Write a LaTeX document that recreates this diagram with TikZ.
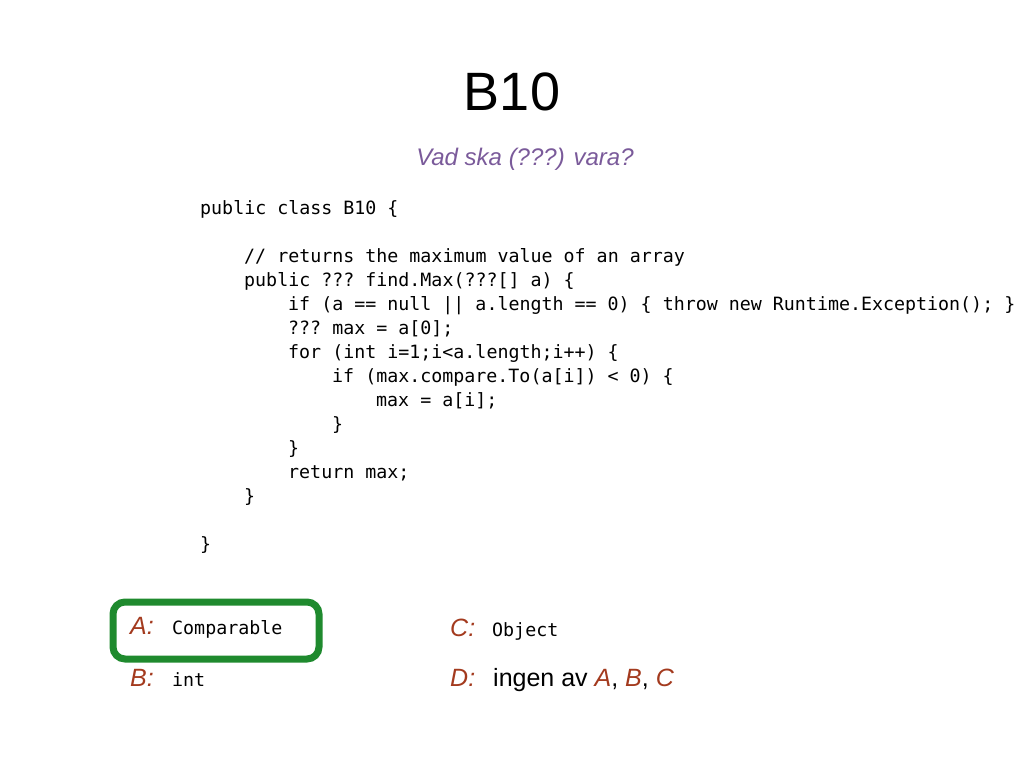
\documentclass[tikz,border=0pt]{standalone}
\usepackage{fontspec}
\setmainfont{Liberation Sans}
\setmonofont{DejaVu Sans Mono}
\definecolor{lbl}{HTML}{A33A1E}
\definecolor{sub}{HTML}{7A5A9A}
\definecolor{grn}{HTML}{1F8A2E}
\begin{document}
\begin{tikzpicture}[x=1pt,y=-1pt,
  code/.style={anchor=base west,inner sep=0pt,font=\fontsize{18.3}{20}\ttfamily},
  lab/.style={anchor=base west,inner sep=0pt,font=\fontsize{25}{28}\itshape\selectfont,text=lbl},
  ans/.style={anchor=base west,inner sep=0pt,font=\fontsize{25}{28}\selectfont}]
\useasboundingbox (0,0) rectangle (1024,768);
\node[anchor=base,inner sep=0pt,font=\fontsize{54}{60}\selectfont] (t) at (512,110) {B10};
\node[anchor=base,inner sep=0pt,font=\fontsize{24}{28}\itshape\selectfont,text=sub] (s) at (525,165) {Vad ska (???) vara?};
\node[code] (c1) at (200,214) {public class B10 \{};
\node[code] (c2) at (244,262) {// returns the maximum value of an array};
\node[code] (c3) at (244,286) {public ??? find.Max(???[] a) \{};
\node[code] (c4) at (288,310) {if (a == null || a.length == 0) \{ throw new Runtime.Exception(); \}};
\node[code] (c5) at (288,334) {??? max = a[0];};
\node[code] (c6) at (288,358) {for (int i=1;i<a.length;i++) \{};
\node[code] (c7) at (332,382) {if (max.compare.To(a[i]) < 0) \{};
\node[code] (c8) at (376,406) {max = a[i];};
\node[code] (c9) at (332,430) {\}};
\node[code] (c10) at (288,454) {\}};
\node[code] (c11) at (288,478) {return max;};
\node[code] (c12) at (244,502) {\}};
\node[code] (c13) at (200,550) {\}};
\node[lab] (la) at (130,634) {A:};
\node[code] (aa) at (172,634) {Comparable};
\node[lab] (lb) at (130,686) {B:};
\node[code] (ab) at (172,686) {int};
\node[lab] (lc) at (450,636) {C:};
\node[code] (ac) at (492,636) {Object};
\node[lab] (ld) at (450,686) {D:};
\node[ans] (ad) at (493,686) {ingen av \textcolor{lbl}{\itshape A}, \textcolor{lbl}{\itshape B}, \textcolor{lbl}{\itshape C}};
\draw[grn,line width=7pt,rounded corners=12pt] (113,602) rectangle (319,659);
\end{tikzpicture}
\end{document}
